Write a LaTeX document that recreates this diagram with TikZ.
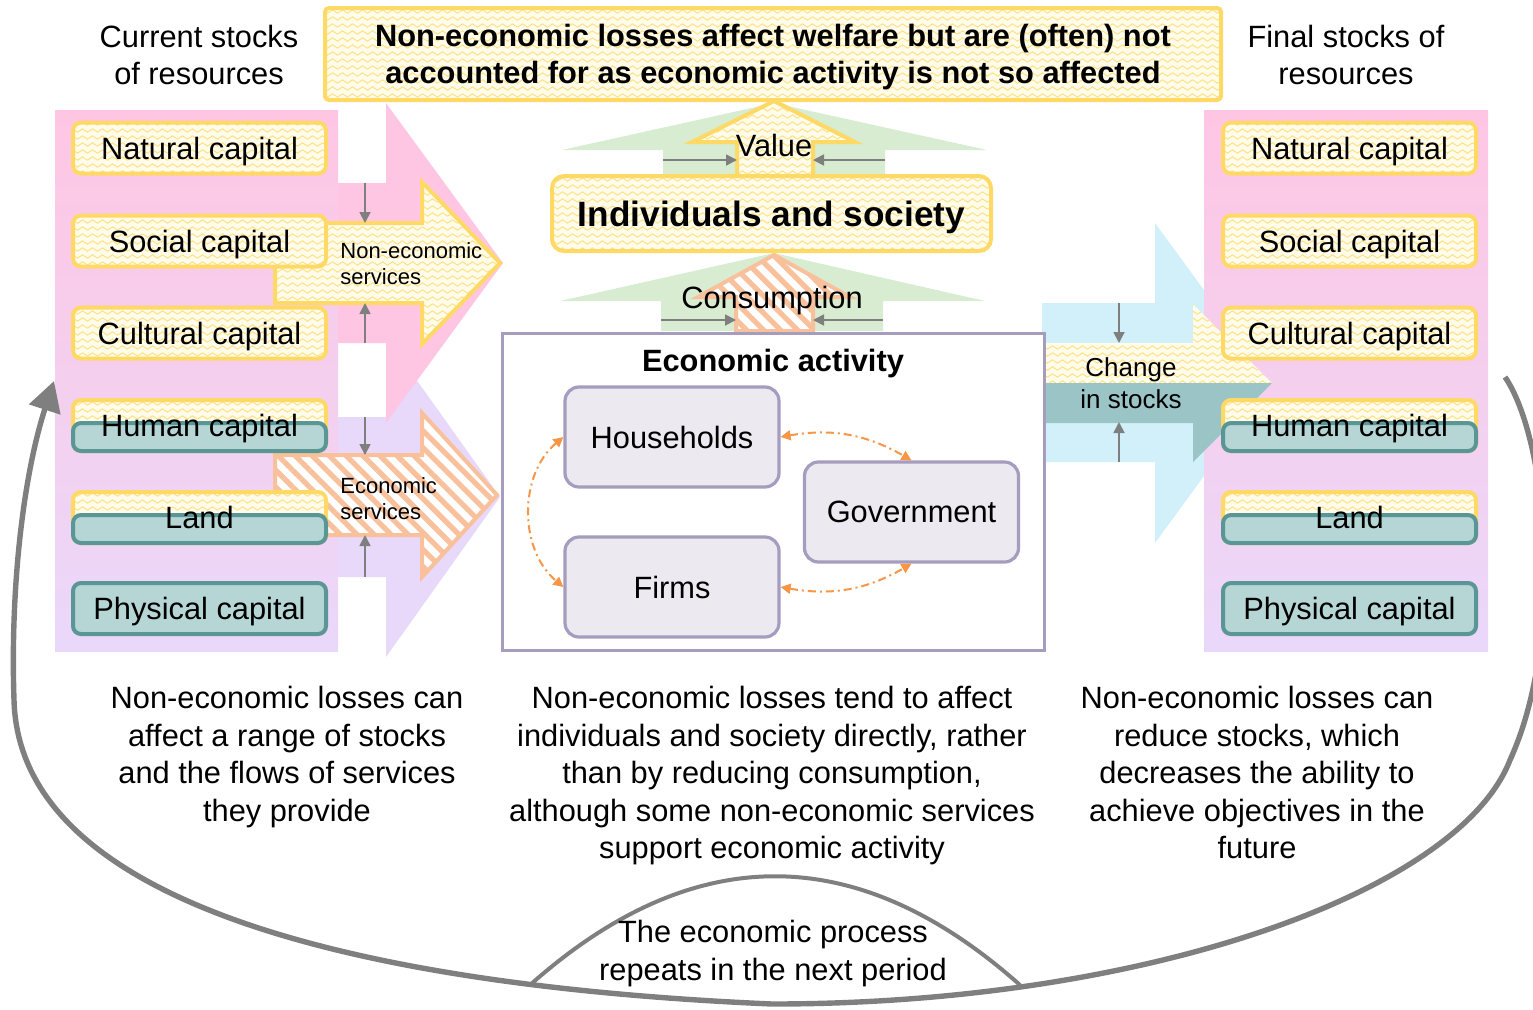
\documentclass[tikz,border=0pt]{standalone}
\usepackage{fontspec}
\setmainfont{Liberation Sans}
\usetikzlibrary{calc}
\usetikzlibrary{arrows.meta}
\usetikzlibrary{patterns.meta}

\definecolor{capyel}{HTML}{FFD966}
\definecolor{wavyc}{HTML}{FFE07A}
\definecolor{wavybg}{HTML}{FFFCEB}
\definecolor{tealdk}{HTML}{5B9696}
\definecolor{teallt}{HTML}{B5D6D5}
\definecolor{panpink}{HTML}{FFC6E4}
\definecolor{panmid}{HTML}{F5CFEE}
\definecolor{panlav}{HTML}{EAD8FA}
\definecolor{bigpink}{HTML}{FFC6E3}
\definecolor{biglav}{HTML}{E8D9FB}
\definecolor{hatchor}{HTML}{F9C09C}
\definecolor{flowgreen}{HTML}{D8ECD1}
\definecolor{chgblue}{HTML}{D2F0FA}
\definecolor{chgteal}{HTML}{9BC4C7}
\definecolor{actlav}{HTML}{A59CBE}
\definecolor{actfill}{HTML}{ECE9F0}
\definecolor{flowor}{HTML}{F79646}
\definecolor{arrgray}{HTML}{7F7F7F}

\tikzdeclarepattern{
  name=wavy,
  type=uncolored,
  bounding box={(0pt,-0.5pt) and (5pt,4pt)},
  tile size={(5pt,3.5pt)},
  code={\draw[line width=0.45pt] (0pt,1.75pt) sin (1.25pt,2.6pt) cos (2.5pt,1.75pt) sin (3.75pt,0.9pt) cos (5pt,1.75pt);}
}

\tikzset{
  capfont/.style={font=\fontsize{15.4}{18.75}\selectfont, text depth=0pt},
  smalltext/.style={font=\fontsize{11}{13}\selectfont, align=left, inner sep=0pt},
  bodytext/.style={capfont, align=center, inner sep=0pt},
  wavyfill/.style={preaction={fill=wavybg}, pattern=wavy, pattern color=wavyc},
  wavyarr/.style={wavyfill, draw=capyel, line width=2pt},
  hatcharr/.style={draw=hatchor, line width=2pt, preaction={fill=white},
    pattern={Lines[angle=-45,distance=6pt,line width=2.6pt]}, pattern color=hatchor},
  yelbox/.style={wavyarr, rounded corners=4pt, minimum width=126.5pt,
    minimum height=25.5pt, inner sep=0pt, outer sep=0pt, capfont},
  tealbox/.style={draw=tealdk, fill=teallt, line width=2pt, rounded corners=4pt,
    minimum width=126.5pt, minimum height=25.5pt, inner sep=0pt, outer sep=0pt, capfont},
  tealpart/.style={draw=tealdk, fill=teallt, line width=2pt, rounded corners=4pt},
  actbox/.style={draw=actlav, fill=actfill, line width=1.6pt, rounded corners=7pt,
    minimum width=107pt, minimum height=50pt, capfont},
  grayarr/.style={draw=arrgray, line width=0.9pt, -{Triangle[length=5.5pt,width=5.5pt]}},
  flowarr/.style={draw=flowor, line width=1pt, dash pattern=on 4pt off 2pt on 1pt off 2pt,
    {Triangle[length=5pt,width=5pt]}-{Triangle[length=5pt,width=5pt]}},
  loopline/.style={draw=arrgray, line width=2.7pt},
}

\newcommand{\yelcap}[4]{\node[yelbox] (#1) at (#2,#3) {#4};}
\newcommand{\tealcap}[4]{\node[tealbox] (#1) at (#2,#3) {#4};}
\newcommand{\splitcap}[4]{%
  \node[yelbox] (#1) at (#2,#3) {};
  \draw[tealpart] ($(#1.west)+(0,-2.5)$) rectangle (#1.south east);
  \node[capfont] (#1t) at (#2,#3) {#4};}

\begin{document}
\begin{tikzpicture}[x=0.5pt,y=-0.5pt]
        \useasboundingbox (0,0) rectangle (1533,1009);

        %change in stocks, behind the final panel
        \fill[chgblue] (1042,303) -- (1155,303) -- (1155,223) -- (1272,383) -- (1155,543) -- (1155,462) -- (1042,462) -- cycle;

        %panels
        \shade[top color=panpink, bottom color=panlav, middle color=panmid] (55,110) rectangle (338,651);
        \shade[top color=panpink, bottom color=panlav, middle color=panmid] (1204,110) rectangle (1488,651);

        %services
        \fill[biglav] (338,417) -- (386,417) -- (386,337) -- (500,497) -- (386,657) -- (386,577) -- (338,577) -- cycle;
        \fill[bigpink] (338,183) -- (386,183) -- (386,103) -- (503,263) -- (386,423) -- (386,343) -- (338,343) -- cycle;
        \path[wavyarr] (275,223) -- (422,223) -- (422,182) -- (500,263) -- (422,344) -- (422,303) -- (275,303) -- cycle;
        \path[hatcharr] (275,455) -- (422,455) -- (422,413) -- (497,495) -- (422,577) -- (422,535) -- (275,535) -- cycle;

        \path[wavyfill] (1044,343) -- (1193,343) -- (1193,304) -- (1272,383) -- (1044,383) -- cycle;
        \fill[chgteal] (1044,383) -- (1272,383) -- (1193,462) -- (1193,423) -- (1044,423) -- cycle;

        %stocks
        \node[bodytext] (curstock) at (199,55) {Current stocks\\of resources};
        \yelcap{natL}{199.5}{148}{Natural capital}
        \yelcap{socL}{199.5}{241}{Social capital}
        \yelcap{culL}{199.5}{333}{Cultural capital}
        \splitcap{humL}{199.5}{425.5}{Human capital}
        \splitcap{lanL}{199.5}{517.5}{Land}
        \tealcap{phyL}{199.5}{608.5}{Physical capital}

        \node[bodytext] (finstock) at (1346,55) {Final stocks of\\resources};
        \yelcap{natR}{1349.5}{148}{Natural capital}
        \yelcap{socR}{1349.5}{241}{Social capital}
        \yelcap{culR}{1349.5}{333}{Cultural capital}
        \splitcap{humR}{1349.5}{425.5}{Human capital}
        \splitcap{lanR}{1349.5}{517.5}{Land}
        \tealcap{phyR}{1349.5}{608.5}{Physical capital}

        \node[smalltext, anchor=west] (noneco) at (340,264) {Non-economic\\services};
        \node[smalltext, anchor=west] (ecoserv) at (340,498.5) {Economic\\services};
        \node[font=\fontsize{13}{16}\selectfont, align=center, inner sep=0pt] (change) at (1131,383) {Change\\in stocks};

        %value and consumption
        \fill[flowgreen] (663,176) -- (663,150) -- (562,150) -- (774,103) -- (987,150) -- (885,150) -- (885,176) -- cycle;
        \path[wavyarr] (737,176) -- (737,142) -- (692,142) -- (774,101) -- (855,142) -- (813,142) -- (813,176) -- cycle;
        \fill[flowgreen] (661,331) -- (661,301) -- (560,301) -- (774,253) -- (985,301) -- (883,301) -- (883,331) -- cycle;
        \path[hatcharr] (736,331) -- (736,297) -- (698,297) -- (774,255) -- (850,297) -- (813,297) -- (813,331) -- cycle;
        \node[capfont, inner sep=0pt] (value) at (774,145) {Value};
        \node[capfont, inner sep=0pt] (consum) at (772,297) {Consumption};

        \node[wavyarr, rounded corners=2pt, minimum width=448pt, minimum height=46pt, align=center, capfont] (title) at (773,54)
          {\bfseries Non-economic losses affect welfare but are (often) not\\\bfseries accounted for as economic activity is not so affected};
        \node[wavyarr, rounded corners=6pt, minimum width=219.5pt, minimum height=37.5pt, text depth=0pt,
          font=\fontsize{17.6}{21}\selectfont\bfseries] (indiv) at (771.5,213.5) {Individuals and society};

        %economic activity
        \node[draw=actlav, fill=white, line width=1.5pt, minimum width=271pt, minimum height=158.5pt] (econ) at (773,491.5) {};
        \node[capfont, inner sep=0pt] (econttl) at (773,360) {\bfseries Economic activity};
        \node[actbox] (hh) at (672,437) {Households};
        \node[actbox] (fi) at (672,587) {Firms};
        \node[actbox] (gov) at (911.5,512) {Government};
        \draw[flowarr] (hh.east) to[bend left=20] (gov.north);
        \draw[flowarr] (fi.east) to[bend right=20] (gov.south);
        \draw[flowarr] (hh.west) to[bend right=50] (fi.west);

        %squeeze arrows
        \foreach \nm/\xa/\ya/\xb/\yb in {sa/365/183/365/223, sb/365/343/365/303, sc/365/417/365/455, sd/365/577/365/535,
            se/663/160/737/160, sf/885/160/813/160, sg/661/320/736/320, sh/883/320/813/320,
            si/1119/303/1119/343, sj/1119/462/1119/422}{
          \coordinate (\nm0) at (\xa,\ya);
          \coordinate (\nm1) at (\xb,\yb);
          \draw[grayarr] (\nm0) -- (\nm1);
        }

        %notes
        \node[bodytext] (txtL) at (287,754) {Non-economic losses can\\affect a range of stocks\\and the flows of services\\they provide};
        \node[bodytext] (txtC) at (772,772.5) {Non-economic losses tend to affect\\individuals and society directly, rather\\than by reducing consumption,\\although some non-economic services\\support economic activity};
        \node[bodytext] (txtR) at (1257,772.5) {Non-economic losses can\\reduce stocks, which\\decreases the ability to\\achieve objectives in the\\future};

        %next period
        \coordinate (loopR) at (1505,377);
        \coordinate (loopL) at (54,381);
        \draw[loopline, -{Triangle[length=15pt,width=16pt]}] (loopR) .. controls (1548,440) and (1565,640) .. (1510,760)
          .. controls (1460,890) and (1150,1004) .. (772,1004) .. controls (450,990) and (20,930) .. (14,700)
          .. controls (10,580) and (25,470) .. (loopL);
        \coordinate (archL) at (530,985);
        \coordinate (archR) at (1020,985);
        \draw[draw=arrgray, line width=2pt] (archL) .. controls (693,840) and (857,840) .. (archR);
        \node[bodytext] (repeat) at (773,950.5) {The economic process\\repeats in the next period};

\end{tikzpicture}
\end{document}
